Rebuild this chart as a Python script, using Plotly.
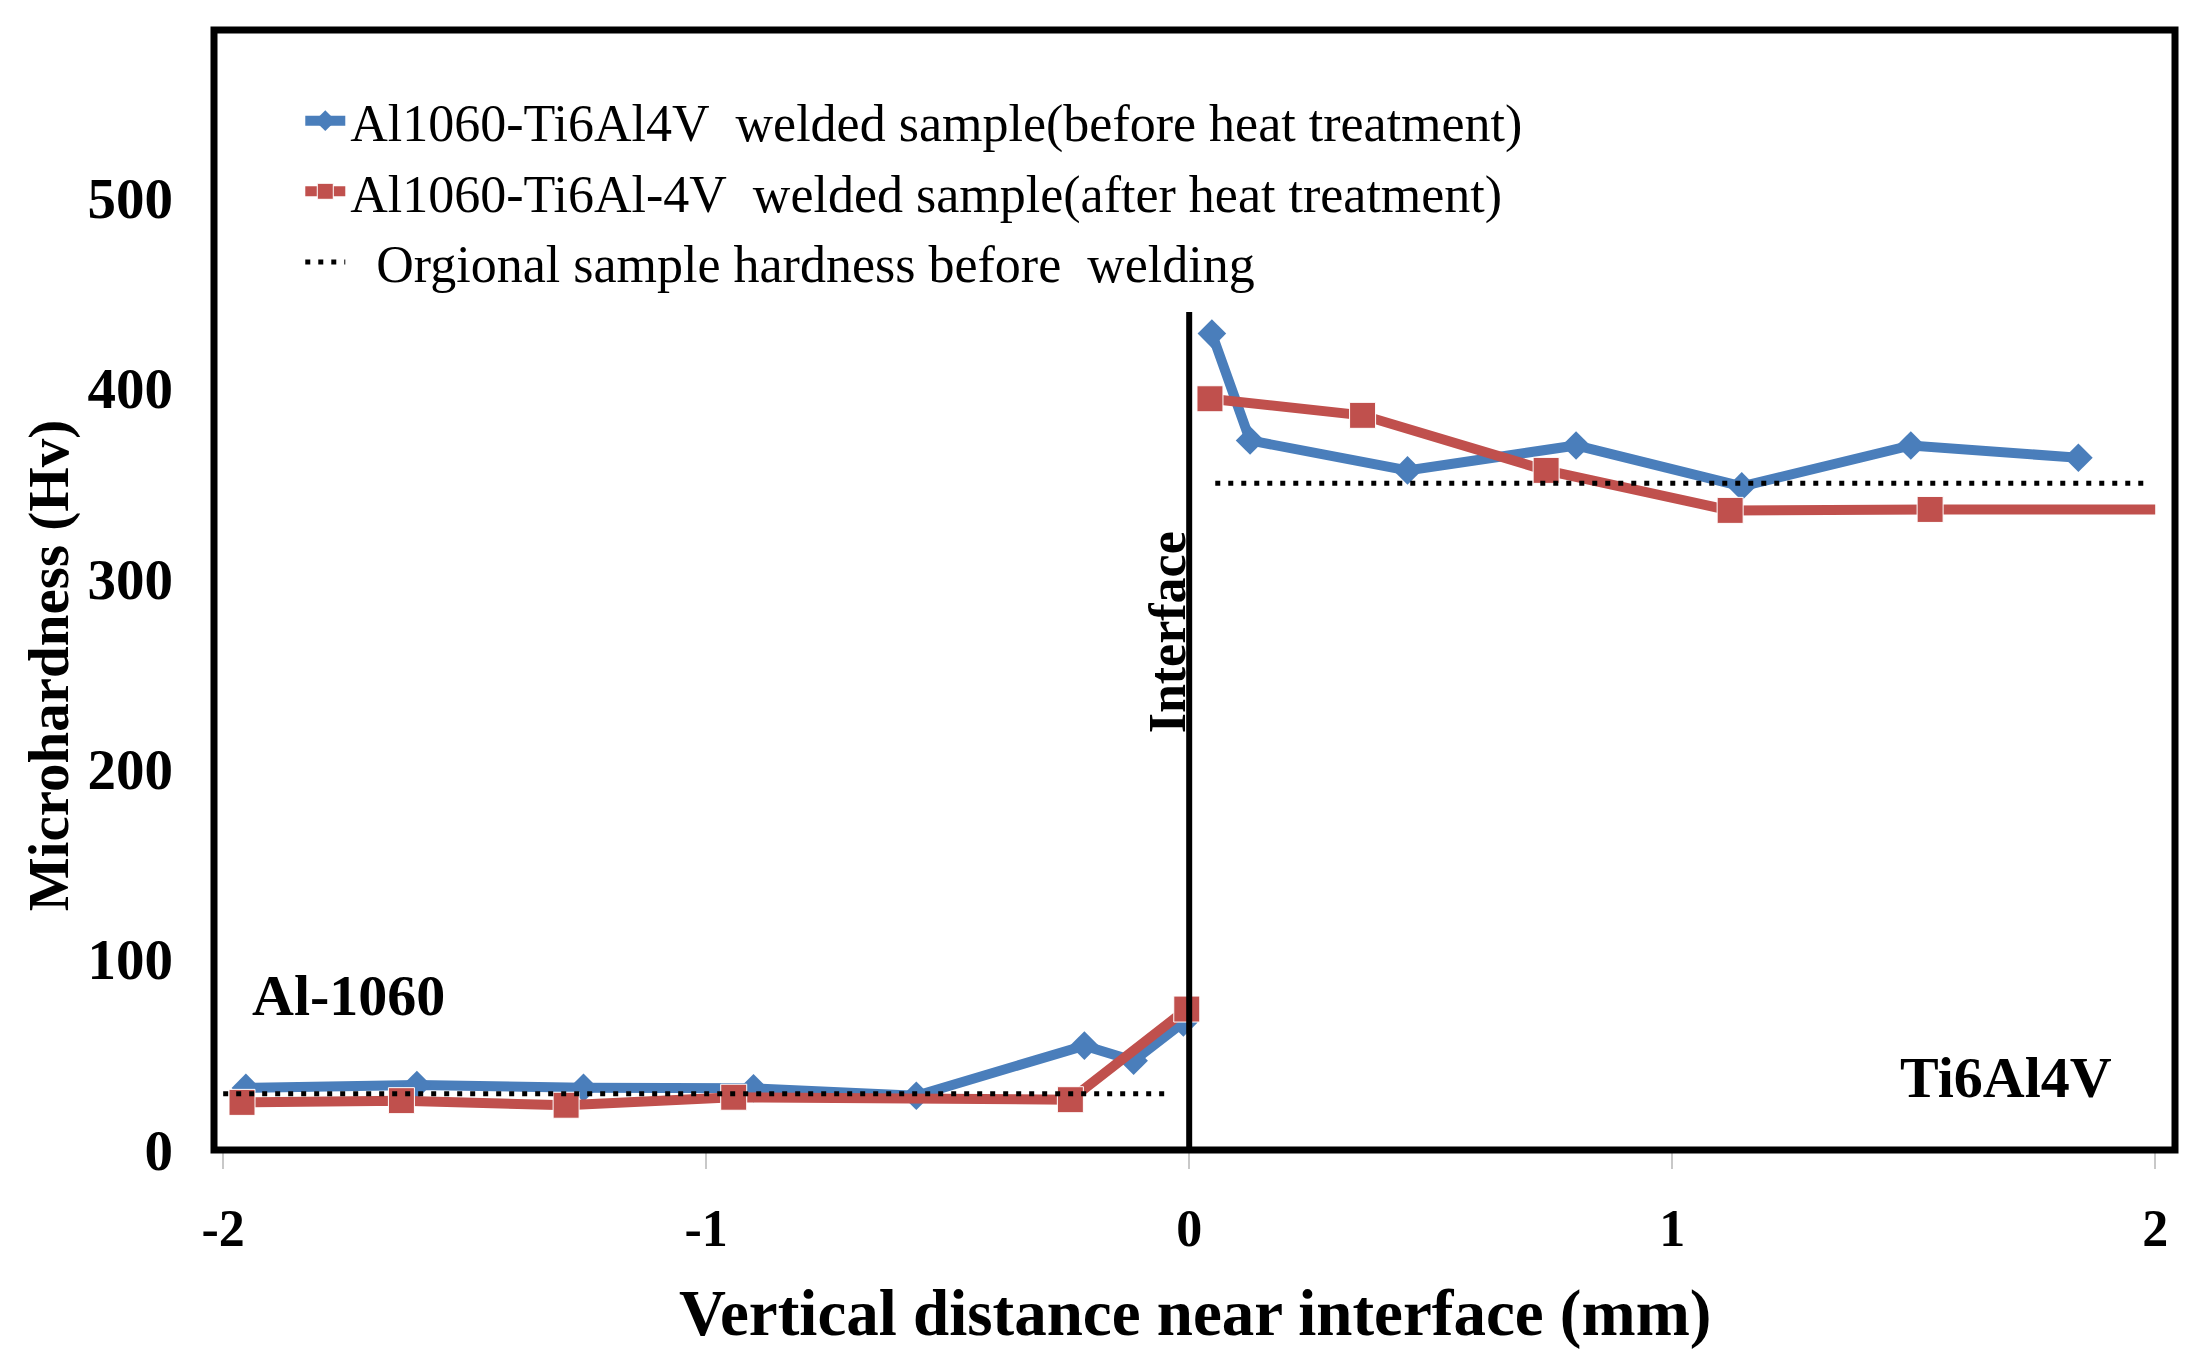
import plotly.graph_objects as go

# microhardness across the Al1060 / Ti6Al4V interface
# before heat treatment
x_before_al = [-1.953, -1.599, -1.254, -0.902, -0.565, -0.217, -0.115, -0.012]
hv_before_al = [32.6, 34.1, 32.7, 32.4, 28.5, 54.8, 46.9, 67.0]
x_before_ti = [0.047, 0.126, 0.452, 0.801, 1.144, 1.494, 1.841]
hv_before_ti = [428.6, 372.5, 356.8, 369.9, 348.4, 369.9, 363.4]

# after heat treatment (last point at x=2 has no marker in the original)
x_after_al = [-1.961, -1.631, -1.290, -0.943, -0.246, -0.005]
hv_after_al = [25.0, 25.9, 23.5, 27.7, 26.4, 74.0]
x_after_ti = [0.043, 0.359, 0.739, 1.120, 1.534, 2.0]
hv_after_ti = [394.4, 385.7, 356.8, 335.8, 336.3, 336.3]

# base metal hardness before welding
x_orig_al = [-2.0, -0.04]
hv_orig_al = [29.5, 29.5]
x_orig_ti = [0.054, 1.983]
hv_orig_ti = [350, 350]

interface_x = 0
interface_top = 440

x_ticks = [-2, -1, 0, 1, 2]
y_ticks = [0, 100, 200, 300, 400, 500]

BLUE = '#4A7EBB'
RED = '#C0504D'
FONT = 'Liberation Serif'
NB = '\u00a0'

fig = go.Figure()

fig.add_trace(go.Scatter(
    x=x_before_al + [None] + x_before_ti,
    y=hv_before_al + [None] + hv_before_ti,
    mode='lines+markers',
    name=f'Al1060-Ti6Al4V{NB}{NB}welded sample(before heat treatment)',
    line=dict(color=BLUE, width=10),
    marker=dict(symbol='diamond', size=22, color=BLUE, opacity=1),
))

after_sizes = [26] * (len(x_after_al) + len(x_after_ti)) + [0]
fig.add_trace(go.Scatter(
    x=x_after_al + [None] + x_after_ti,
    y=hv_after_al + [None] + hv_after_ti,
    mode='lines+markers',
    name=f'Al1060-Ti6Al-4V{NB}{NB}welded sample(after heat treatment)',
    line=dict(color=RED, width=10),
    marker=dict(symbol='square', size=after_sizes, color=RED, opacity=1),
))

fig.add_trace(go.Scatter(
    x=x_orig_al + [None] + x_orig_ti,
    y=hv_orig_al + [None] + hv_orig_ti,
    mode='lines',
    name=f'{NB}{NB}Orgional sample hardness before{NB}{NB}welding',
    line=dict(color='black', width=5, dash='5px,8px'),
))

# interface line and outer frame
fig.add_shape(type='line', xref='x', yref='y',
              x0=interface_x, x1=interface_x, y0=0, y1=interface_top,
              line=dict(color='black', width=6))
fig.add_shape(type='rect', xref='paper', yref='paper',
              x0=0, x1=1, y0=0, y1=1,
              line=dict(color='black', width=7))

bold = dict(family=FONT, color='black', weight='bold')

annotations = [
    dict(text='Al-1060', x=-1.944, y=81, xanchor='left', yanchor='middle',
         showarrow=False, font=dict(size=58, **bold)),
    dict(text='Ti6Al4V', x=1.915, y=38, xanchor='right', yanchor='middle',
         showarrow=False, font=dict(size=58, **bold)),
    dict(text='Interface', x=-0.045, y=272, textangle=-90,
         xanchor='center', yanchor='middle',
         showarrow=False, font=dict(size=52, **bold)),
    dict(text='Vertical distance near interface (mm)',
         xref='paper', yref='paper', x=0.5, y=0, yshift=-163,
         xanchor='center', yanchor='middle',
         showarrow=False, font=dict(size=65, **bold)),
    dict(text='Microhardness (Hv)', xref='paper', yref='y',
         x=0, xshift=-165, y=254, textangle=-90,
         xanchor='center', yanchor='middle',
         showarrow=False, font=dict(size=57, **bold)),
]

# the page adds an 8px body margin, so the margins are shifted by 8px
fig.update_layout(
    width=2201,
    height=1361,
    margin=dict(l=206, r=34, t=22, b=219),
    paper_bgcolor='white',
    plot_bgcolor='white',
    font=dict(family=FONT, color='black'),
    showlegend=True,
    legend=dict(
        x=0.044, y=0.955, xanchor='left', yanchor='top',
        bgcolor='rgba(0,0,0,0)',
        font=dict(family=FONT, size=52, color='black'),
        itemwidth=40,
        tracegroupgap=0,
    ),
    xaxis=dict(
        range=[-2.019, 2.041],
        tickvals=x_ticks,
        ticktext=[str(v) for v in x_ticks],
        ticks='outside', ticklen=18, tickwidth=2, tickcolor='#c8c8c8',
        ticklabelstandoff=15,
        tickfont=dict(size=52, **bold),
        showgrid=False, zeroline=False, showline=False,
    ),
    yaxis=dict(
        range=[0, 588],
        tickvals=y_ticks,
        ticks='',
        ticklabelstandoff=40,
        tickfont=dict(size=57, **bold),
        showgrid=False, zeroline=False, showline=False,
    ),
    annotations=annotations,
)

fig.write_html('out.html')
